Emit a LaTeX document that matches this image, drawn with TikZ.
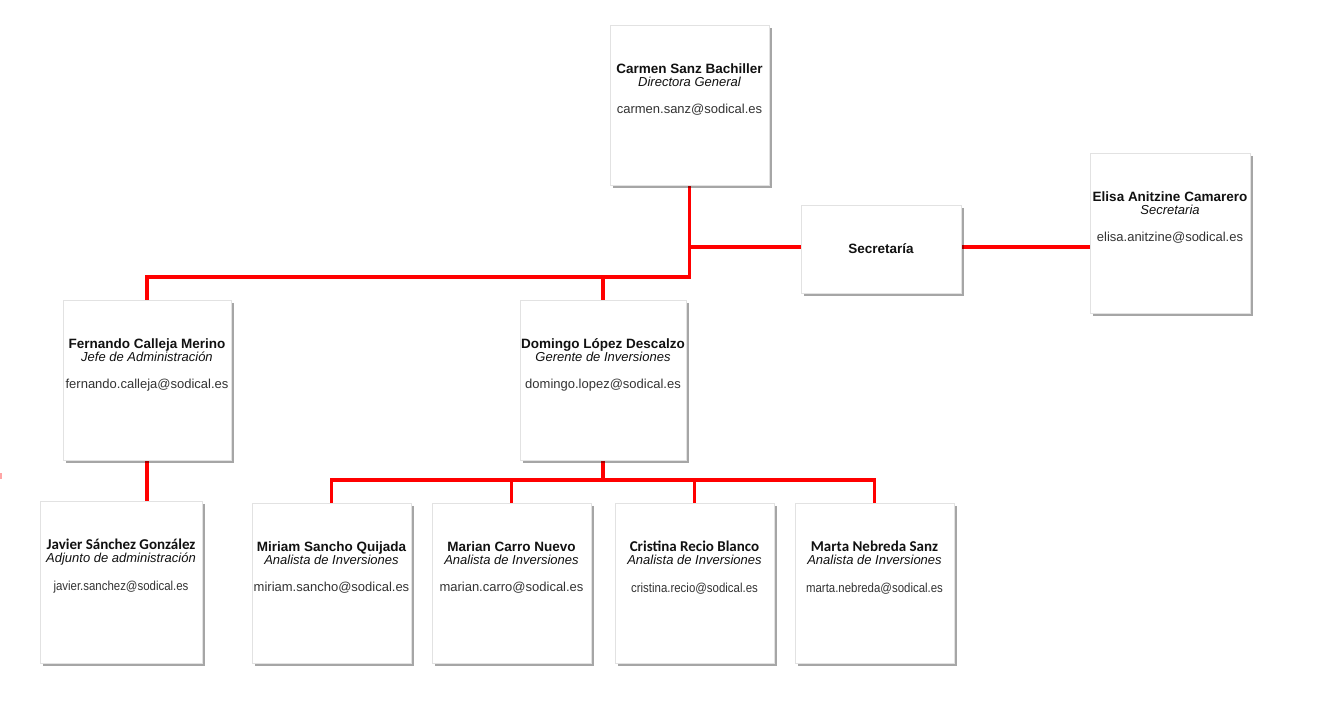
\documentclass[tikz,border=0pt]{standalone}
\usepackage{fontspec}
\setmainfont{Liberation Sans}
\newfontfamily\calibfont{Carlito}
\newfontfamily\narrowfont[FakeStretch=0.88]{Liberation Sans}
\usetikzlibrary{shadows,calc,backgrounds}
\definecolor{txt}{HTML}{111111}
\definecolor{mail}{HTML}{333333}
\definecolor{edge}{HTML}{E2E2E2}
\tikzset{
  card/.style={draw=edge, line width=0.8pt, fill=white, inner sep=0pt,
    drop shadow={shadow xshift=2.6pt, shadow yshift=-2.6pt, fill=black, opacity=0.35}},
  conn/.style={draw=red, line width=3.6pt},
  nm-a/.style={anchor=base, inner sep=0pt, text=txt, font=\fontsize{13.5}{13.5}\selectfont\bfseries},
  nm-b/.style={anchor=base, inner sep=0pt, text=txt, font=\fontsize{15}{15}\selectfont\calibfont\bfseries},
  rl/.style={anchor=base, inner sep=0pt, text=txt, font=\fontsize{13}{13}\selectfont\itshape},
  em-a/.style={anchor=base, inner sep=0pt, text=mail, font=\fontsize{13}{13}\selectfont},
  em-b/.style={anchor=base, inner sep=0pt, text=mail, font=\fontsize{13}{13}\selectfont\narrowfont},
}
\newcommand\emoff{}
% #1 id, #2 cx, #3 top, #4 w, #5 h, #6 a/b, #7 name, #8 role, #9 email
\newcommand\pcard[9]{%
  \node[card, minimum width=#4pt, minimum height=#5pt] (#1) at (#2,{#3+#5/2}) {};
  \node[nm-#6] (#1-n) at ([yshift=-49pt]#1.north) {#7};
  \node[rl] (#1-r) at ([yshift=-62pt]#1.north) {#8};
  \if a#6\def\emoff{-88.5pt}\else\def\emoff{-90pt}\fi
  \node[em-#6] (#1-e) at ([yshift=\emoff]#1.north) {#9};
}
\begin{document}
\begin{tikzpicture}[x=1pt,y=-1pt]
\useasboundingbox (0,0) rectangle (1325,720);
\fill[red!35] (0,473) rectangle (2,479);

\coordinate (bus1) at (0,277);
\coordinate (bus2) at (0,480);

\pcard{carmen}{689.5}{25}{159}{160}{a}{Carmen Sanz Bachiller}{Directora General}{carmen.sanz@sodical.es}
\node[card, minimum width=160pt, minimum height=88pt, font=\fontsize{13.5}{13.5}\selectfont\bfseries, text=txt] (secre) at (881,249) {Secretaría};
\pcard{elisa}{1170}{153}{160}{160}{a}{Elisa Anitzine Camarero}{Secretaria}{elisa.anitzine@sodical.es}
\pcard{fernando}{147}{300}{168}{160}{a}{Fernando Calleja Merino}{Jefe de Administración}{fernando.calleja@sodical.es}
\pcard{domingo}{603}{300}{166}{160}{a}{Domingo López Descalzo}{Gerente de Inversiones}{domingo.lopez@sodical.es}
\pcard{javier}{121}{501}{162}{162}{b}{Javier Sánchez González}{Adjunto de administración}{javier.sanchez@sodical.es}
\pcard{miriam}{331.5}{503}{159}{160}{a}{Miriam Sancho Quijada}{Analista de Inversiones}{miriam.sancho@sodical.es}
\pcard{marian}{511.5}{503}{159}{160}{a}{Marian Carro Nuevo}{Analista de Inversiones}{marian.carro@sodical.es}
\pcard{cristina}{694.5}{503}{159}{160}{b}{Cristina Recio Blanco}{Analista de Inversiones}{cristina.recio@sodical.es}
\pcard{marta}{874.5}{503}{159}{160}{b}{Marta Nebreda Sanz}{Analista de Inversiones}{marta.nebreda@sodical.es}

\begin{scope}[on background layer]
\draw[conn] (carmen.south) -- (carmen.south |- bus1) -| (fernando.north);
\draw[conn] (domingo.north |- bus1) -- (domingo.north);
\draw[conn] (secre.west |- 0,247) -- (carmen.south |- 0,247);
\draw[conn] (secre.east |- 0,247) -- (elisa.west |- 0,247);
\draw[conn] (fernando.south) -- (fernando.south |- javier.north);
\draw[conn] (domingo.south) |- (miriam.north |- bus2) -- (miriam.north);
\draw[conn] (domingo.south) |- (marta.north |- bus2) -- (marta.north);
\draw[conn] (marian.north |- bus2) -- (marian.north);
\draw[conn] (cristina.north |- bus2) -- (cristina.north);
\end{scope}
\end{tikzpicture}
\end{document}
